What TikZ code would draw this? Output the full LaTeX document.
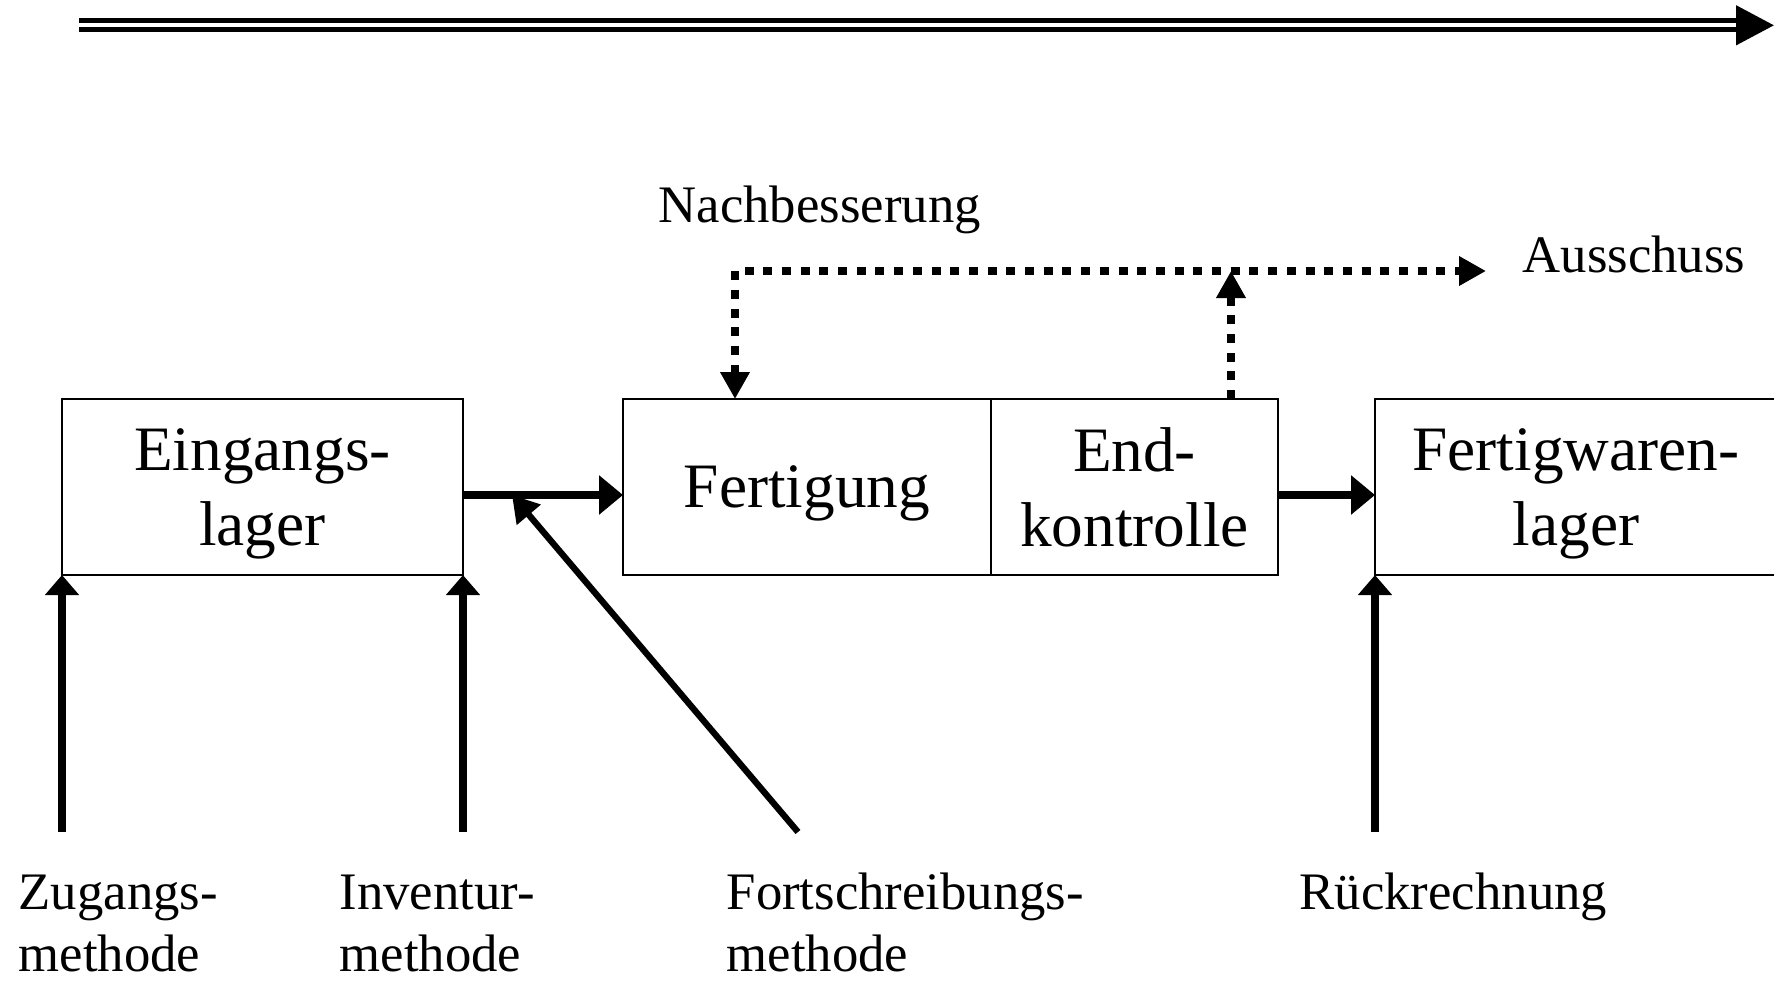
\documentclass[tikz,border=0pt]{standalone}
\usepackage{fontspec}
\setmainfont{Liberation Serif}
\usetikzlibrary{positioning}
\usetikzlibrary{arrows.meta}

\begin{document}
\begin{tikzpicture}[>={Triangle[length=0.24cm,width=0.38cm]},
    box/.style={draw,line width=0.6pt,inner sep=0pt,outer sep=0pt,minimum height=1.76cm,text depth=0pt,align=center,font=\fontsize{18}{21.3}\selectfont},
    flow/.style={line width=2pt,->},
    probe/.style={line width=2pt,-{Triangle[length=0.2cm,width=0.33cm]}},
    dotline/.style={line width=2.55pt,dash pattern=on 0.09cm off 0.097cm,>={Triangle[length=0.27cm,width=0.28cm]}},
    lbl/.style={anchor=base west,inner sep=0pt,align=left,font=\fontsize{15}{17.6}\selectfont}]
    \useasboundingbox (0,0) rectangle (17.74,9.80);
    % time axis
    \coordinate (T0) at (0.79,9.547);
    \coordinate (T1) at (17.74,9.547);
    \draw [double,line width=1.4pt,double distance=1.15pt,-{Triangle[length=0.38cm,width=0.39cm]}] (T0) -- (T1);
    % stations
    \node (EL) [box,minimum width=4.01cm] at (2.625,4.93) {Eingangs-\\lager};
    \node (FG) [box,minimum width=3.68cm,right=1.6cm of EL] {Fertigung};
    \node (EK) [box,minimum width=2.87cm,right=0cm of FG] {End-\\kontrolle};
    \node (FL) [box,minimum width=4.02cm,right=0.97cm of EK] {Fertigwaren-\\lager};
    \draw [flow] ([yshift=-0.08cm]EL.east) -- ([yshift=-0.08cm]FG.west);
    \draw [flow] ([yshift=-0.08cm]EK.east) -- ([yshift=-0.08cm]FL.west);
    % methods
    \coordinate (ZU) at ([yshift=-2.57cm]EL.south west);
    \coordinate (IN) at ([yshift=-2.57cm]EL.south east);
    \coordinate (RU) at ([yshift=-2.57cm]FL.south west);
    \coordinate (FS) at (7.98,1.48);
    \coordinate (FM) at (5.12,4.85);
    \draw [probe] (ZU) -- (EL.south west);
    \draw [probe] (IN) -- (EL.south east);
    \draw [probe] (RU) -- (FL.south west);
    \draw [line width=1.8pt,-{Triangle[length=0.26cm,width=0.3cm]}] (FS) -- (FM);
    % rework / scrap
    \coordinate (NB) at (7.35,7.09);
    \coordinate (AU) at (14.86,7.09);
    \coordinate (EX) at ([xshift=0.965cm]EK.north);
    \draw [dotline,<->] (NB |- FG.north) -- (NB) -- (AU);
    \draw [dotline,->] (EX) -- (EX |- NB);
    % labels
    \node (NBL) [lbl] at (6.58,7.58) {Nachbesserung};
    \node (AUL) [lbl] at (15.22,7.08) {Ausschuss};
    \node (ZUL) [lbl] at (0.18,0.09) {Zugangs-\\methode};
    \node (INL) [lbl] at (3.39,0.09) {Inventur-\\methode};
    \node (FSL) [lbl] at (7.26,0.09) {Fortschreibungs-\\methode};
    \node (RUL) [lbl] at (12.99,0.71) {Rückrechnung};
\end{tikzpicture}
\end{document}
